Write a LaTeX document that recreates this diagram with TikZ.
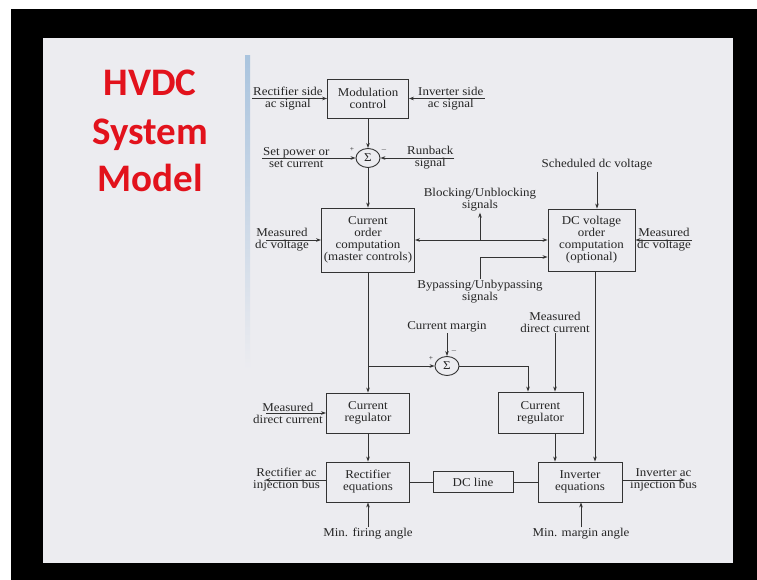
\documentclass[tikz,border=0pt]{standalone}
\usepackage{fontspec}
\setmainfont{Liberation Serif}[FakeStretch=1.08]
\newfontfamily\titlefont{Carlito}
\usetikzlibrary{positioning, arrows.meta, shapes.geometric}
\definecolor{slidegray}{RGB}{236,236,240}
\definecolor{titlered}{RGB}{226,18,28}
\definecolor{scanblue}{RGB}{170,196,222}

\begin{document}
\begin{tikzpicture}[x=1pt,y=-1pt,font=\fontsize{12}{12}\selectfont,
  blk/.style={draw=black!80, line width=0.9pt, align=center, inner sep=0pt, text=black!85},
  sum/.style={draw=black!80, line width=0.9pt, ellipse, minimum width=24pt, minimum height=19pt, inner sep=0pt, text=black!85},
  lbl/.style={align=center, inner sep=1pt, text=black!85},
  pm/.style={inner sep=0pt, font=\fontsize{7}{7}\selectfont, text=black!85},
  sig/.style={draw=black!80, line width=0.9pt, -{Stealth[length=5pt,width=3.6pt]}},
  both/.style={draw=black!80, line width=0.9pt, {Stealth[length=5pt,width=3.6pt]}-{Stealth[length=5pt,width=3.6pt]}},
  wire/.style={draw=black!80, line width=0.9pt},
  title/.style={anchor=base, text=titlered, font=\titlefont\bfseries\fontsize{39}{39}\selectfont}]

\useasboundingbox (0,0) rectangle (757,580);

% Slide
\fill[black] (0,0) rectangle (757,580);
\fill[white] (0,0) rectangle (757,9);
\fill[white] (0,0) rectangle (11,580);
\fill[slidegray] (43,38) rectangle (733,563);
\shade[top color=scanblue, bottom color=slidegray] (245,56) rectangle (250,370);

% Title
\node[title] (title_a) at (150,96) {HVDC};
\node[title] (title_b) at (150,145) {System};
\node[title] (title_c) at (150,192) {Model};

% Define blocks
\node[blk, minimum width=81pt, minimum height=39pt] (mod_control) at (368,98.5) {Modulation\\control};
\node[sum] (sum_order) at (368,158) {Σ};
\node[blk, minimum width=93pt, minimum height=64pt] (order_comp) at (368,240) {Current\\order\\computation\\(master controls)};
\node[blk, minimum width=87pt, minimum height=62pt] (dcv_comp) at (591.5,240) {DC voltage\\order\\computation\\(optional)};
\node[sum] (sum_margin) at (447,366) {Σ};
\node[blk, minimum width=83pt, minimum height=40pt] (reg_rect) at (368,413) {Current\\regulator};
\node[blk, minimum width=85pt, minimum height=41pt] (reg_inv) at (540.5,412.5) {Current\\regulator};
\node[blk, minimum width=83pt, minimum height=40pt] (eq_rect) at (368,482) {Rectifier\\equations};
\node[blk, minimum width=80pt, minimum height=21pt] (dc_line) at (473,482) {DC line};
\node[blk, minimum width=84pt, minimum height=40pt] (eq_inv) at (580,482) {Inverter\\equations};

% Signs at the summing points
\node[pm] (sum_order_p) at (352,150) {+};
\node[pm] (sum_order_m) at (384,150) {$-$};
\node[pm] (sum_margin_p) at (431,359) {+};
\node[pm] (sum_margin_m) at (454,351) {$-$};

% Input and output signals
\node[lbl, anchor=west] (rect_side) at (252,98.5) {Rectifier side\\ac signal};
\node[lbl, anchor=west] (inv_side) at (417,98.5) {Inverter side\\ac signal};
\node[lbl, anchor=west] (set_power) at (262,158) {Set power or\\set current};
\node[lbl, anchor=west] (runback) at (406,158) {Runback\\signal};
\node[lbl] (sched_dcv) at (597,165) {Scheduled dc voltage};
\node[lbl, anchor=west] (meas_dcv_rect) at (254,240) {Measured\\dc voltage};
\node[lbl, anchor=west] (meas_dcv_inv) at (636,240) {Measured\\dc voltage};
\node[lbl] (blocking) at (480,200) {Blocking/Unblocking\\signals};
\node[lbl] (bypassing) at (480,292) {Bypassing/Unbypassing\\signals};
\node[lbl] (cur_margin) at (447,327) {Current margin};
\node[lbl] (meas_dc_inv) at (555,322) {Measured\\direct current};
\node[lbl, anchor=west] (meas_dc_rect) at (252,413) {Measured\\direct current};
\node[lbl, anchor=west] (rect_bus) at (252,480) {Rectifier ac\\injection bus};
\node[lbl, anchor=west] (inv_bus) at (629,480) {Inverter ac\\injection bus};
\node[lbl] (min_firing) at (368,534) {Min. firing angle};
\node[lbl] (min_margin) at (581,534) {Min. margin angle};

% Connectors
\draw[sig] (rect_side.west) -- (rect_side.west -| mod_control.west);
\draw[sig] (inv_side.east) -- (inv_side.east -| mod_control.east);
\draw[sig] (mod_control.south) -- (sum_order.north);
\draw[sig] (set_power.west) -- (set_power.west -| sum_order.west);
\draw[sig] (runback.east) -- (runback.east -| sum_order.east);
\draw[sig] (sum_order.south) -- (order_comp.north);
\draw[sig] ([xshift=12pt]meas_dcv_rect.west) -- (meas_dcv_rect.west -| order_comp.west);
\draw[both] (order_comp.east) -- (order_comp.east -| dcv_comp.west);
\draw[sig] (blocking.south |- order_comp.east) -- (blocking.south);
\draw[sig] (bypassing.north) |- ([yshift=-17pt]dcv_comp.west);
\draw[sig] (sched_dcv.south) -- (sched_dcv.south |- dcv_comp.north);
\draw[sig] (meas_dcv_inv.east) -- (meas_dcv_inv.east -| dcv_comp.east);
\draw[sig] (order_comp.south) -- (reg_rect.north);
\draw[sig] (order_comp.south |- sum_margin.west) -- (sum_margin.west);
\draw[sig] (cur_margin.south) -- (sum_margin.north);
\draw[sig] (sum_margin.east) -| ([xshift=-12.5pt]reg_inv.north);
\draw[sig] (meas_dc_inv.south) -- (meas_dc_inv.south |- reg_inv.north);
\draw[sig] ([xshift=14pt]meas_dc_rect.west) -- (meas_dc_rect.west -| reg_rect.west);
\draw[sig] (reg_rect.south) -- (eq_rect.north);
\draw[sig] ([xshift=14.5pt]reg_inv.south) -- ([xshift=14.5pt]reg_inv.south |- eq_inv.north);
\draw[sig] ([xshift=3.5pt]dcv_comp.south) -- ([xshift=3.5pt]dcv_comp.south |- eq_inv.north);
\draw[wire] (eq_rect.east) -- (dc_line.west);
\draw[wire] (dc_line.east) -- (eq_inv.west);
\draw[sig] (eq_rect.west |- rect_bus.west) -- ([xshift=13pt]rect_bus.west);
\draw[sig] (eq_inv.east |- inv_bus.east) -- ([xshift=-13pt]inv_bus.east);
\draw[sig] (min_firing.north) -- (eq_rect.south);
\draw[sig] (min_margin.north) -- (min_margin.north |- eq_inv.south);
\end{tikzpicture}
\end{document}
